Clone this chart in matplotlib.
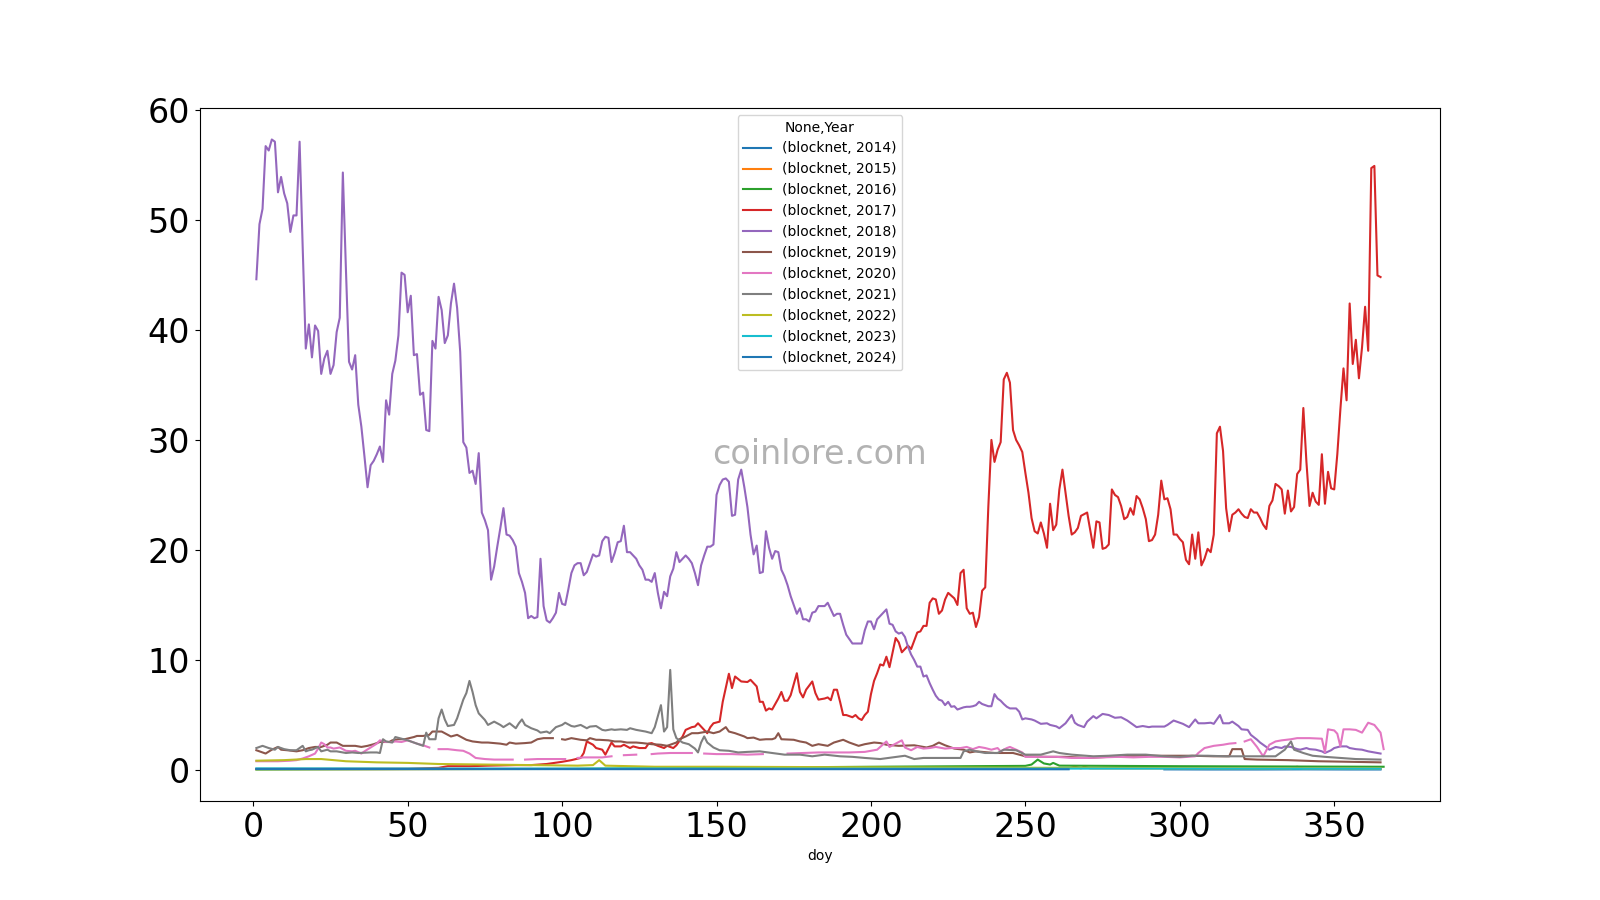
import numpy as np
import matplotlib
matplotlib.use("Agg")
import matplotlib.pyplot as plt

nan = np.nan

years = [2014, 2015, 2016, 2017, 2018, 2019, 2020, 2021, 2022, 2023, 2024]

# --- blocknet price by day of year ---
doy_2014 = [295, 310, 325, 340, 355, 365]
price_2014 = [0.06, 0.05, 0.05, 0.06, 0.05, 0.05]

doy_2015 = [1, 40, 80, 120, 160, 200, 240, 264, 266, 268, 269, 271, 300, 336, 338, 340, 365]
price_2015 = [0.08, 0.08, 0.1, 0.1, 0.12, 0.15, 0.15, 0.15, 0.3, 0.15, 0.3, 0.15, 0.15, 0.15, 0.3, 0.15, 0.12]

doy_2016 = [1, 50, 100, 150, 200, 250, 252, 254, 256, 258, 259, 261, 300, 366]
price_2016 = [0.05, 0.08, 0.1, 0.2, 0.3, 0.38, 0.5, 0.95, 0.6, 0.5, 0.65, 0.4, 0.35, 0.3]

doy_2017 = [1, 50, 60, 63, 70, 76, 85, 90, 95, 100, 103,
            106, 107, 108, 110, 111, 113, 114, 116, 117, 119, 120, 122, 123, 125, 127, 128, 129,
            131, 133, 134, 136, 137, 139, 140, 142, 143, 144, 145, 147, 148, 149, 151, 152, 154,
            155, 156, 158, 160, 161, 163, 164, 165, 166, 167, 168, 170, 171, 172, 173, 174, 176,
            177, 178, 179, 181, 182, 183, 185, 186, 187, 188, 189, 190, 191, 192, 194, 195, 196,
            197, 198, 199, 200, 201, 202, 203, 204, 205, 206, 208, 209, 210, 211, 212, 213, 215,
            216, 217, 218, 219, 220, 221, 222, 223, 224, 225, 227, 228, 229, 230, 231, 232, 233,
            234, 235, 236, 237, 238, 239, 240, 241, 242, 243, 244, 245, 246, 247, 248, 249, 250,
            251, 252, 253, 254, 255, 256, 257, 258, 259, 260, 261, 262, 263, 264, 265, 266, 267,
            268, 270, 271, 272, 273, 274, 275, 276, 277, 278, 279, 280, 281, 282, 283, 284, 285,
            286, 287, 288, 289, 290, 291, 292, 293, 294, 295, 296, 297, 298, 299, 300, 301, 302,
            303, 304, 305, 306, 307, 308, 309, 310, 311, 312, 313, 314, 315, 316, 317, 318, 319,
            320, 321, 322, 323, 324, 325, 326, 327, 328, 329, 330, 331, 332, 333, 334, 335, 336,
            337, 338, 339, 340, 341, 342, 343, 344, 345, 346, 347, 348, 349, 350, 351, 352, 353,
            354, 355, 356, 357, 358, 359, 360, 361, 362, 363, 364, 365]
price_2017 = [0.1, 0.12, 0.2, 0.35, 0.35, 0.4, 0.45, 0.45, 0.55, 0.75, 0.9,
              1.1, 1.55, 2.6, 2.3, 2.0, 1.85, 1.4, 2.5, 2.15, 2.15, 2.3, 2.0, 2.15, 2.0, 2.0, 2.4, 2.45,
              2.2, 2.0, 2.2, 2.0, 2.25, 3.05, 3.65, 3.9, 3.95, 4.25, 3.95, 3.35, 3.9, 4.25, 4.4, 6.2, 8.75,
              7.45, 8.5, 8.05, 8.0, 8.2, 7.6, 6.2, 6.2, 5.4, 5.6, 5.5, 6.5, 7.1, 6.3, 6.3, 6.8, 8.8,
              7.1, 6.6, 7.3, 8.05, 7.0, 6.4, 6.5, 6.6, 6.35, 7.3, 7.3, 6.2, 5.0, 5.0, 4.8, 5.0, 4.7,
              4.55, 5.0, 5.3, 6.9, 8.1, 8.8, 9.6, 9.5, 10.3, 9.35, 12.0, 11.6, 10.7, 11.0, 11.3, 11.0, 12.5,
              12.6, 13.1, 13.1, 15.2, 15.6, 15.5, 14.2, 14.5, 15.5, 16.1, 15.6, 15.0, 17.9, 18.2, 14.7, 14.2, 14.3,
              13.0, 13.9, 16.3, 16.6, 23.9, 30.0, 28.0, 29.1, 29.8, 35.5, 36.1, 35.2, 30.9, 30.0, 29.5, 28.9, 27.0,
              25.2, 22.9, 21.7, 21.5, 22.5, 21.5, 20.2, 24.2, 21.8, 22.3, 25.5, 27.3, 25.2, 23.1, 21.4, 21.6, 22.0,
              23.1, 23.4, 21.8, 20.2, 22.6, 22.5, 20.1, 20.2, 20.5, 25.5, 25.0, 24.8, 24.0, 22.8, 23.0, 23.8, 23.2,
              24.9, 24.6, 23.8, 22.8, 20.8, 20.9, 21.4, 23.2, 26.3, 24.6, 24.7, 23.7, 21.4, 21.4, 21.0, 20.7, 19.1,
              18.7, 21.4, 19.2, 21.6, 18.6, 19.2, 20.1, 19.8, 21.4, 30.6, 31.2, 29.0, 23.8, 21.7, 23.2, 23.4, 23.7,
              23.3, 23.0, 22.9, 23.7, 23.4, 23.4, 22.9, 22.3, 21.9, 24.0, 24.5, 26.0, 25.8, 25.5, 23.3, 25.4, 23.5,
              23.9, 26.9, 27.3, 32.9, 28.0, 24.0, 25.2, 24.4, 24.1, 28.7, 24.2, 27.1, 25.6, 25.5, 28.7, 32.8, 36.5,
              33.6, 42.4, 36.9, 39.1, 35.6, 38.4, 42.1, 38.1, 54.7, 54.9, 44.95, 44.8]

doy_2018 = list(range(1, 250)) + [
    250, 252, 253, 255, 257, 258, 260, 261, 263, 265, 266, 267, 269, 270, 272, 273, 275, 277,
    279, 281, 283, 285, 286, 288, 290, 291, 293, 295, 296, 298, 300, 301, 303, 305, 306, 308,
    310, 311, 313, 314, 316, 317, 319, 320, 322, 323, 325, 326, 328, 329, 331, 333, 334, 336,
    338, 339, 341, 342, 344, 346, 347, 349, 350, 352, 354, 355, 357, 359, 361, 363, 365]
price_2018 = [
    44.6, 49.6, 51.0, 56.7, 56.3, 57.3, 57.1, 52.5, 53.9, 52.4,
    51.5, 48.9, 50.4, 50.4, 57.1, 47.5, 38.3, 40.5, 37.5, 40.4,
    39.9, 36.0, 37.4, 38.1, 36.0, 36.8, 39.8, 41.1, 54.3, 45.5,
    37.1, 36.4, 37.7, 33.2, 31.2, 28.5, 25.7, 27.7, 28.1, 28.7,
    29.4, 28.0, 33.6, 32.3, 36.0, 37.2, 39.5, 45.2, 45.0, 41.6,
    43.1, 37.7, 37.8, 34.1, 34.3, 30.9, 30.8, 39.0, 38.3, 43.0,
    41.8, 38.8, 39.5, 42.4, 44.2, 42.0, 38.0, 29.8, 29.3, 27.0,
    27.2, 26.0, 28.8, 23.4, 22.7, 21.8, 17.3, 18.5, 20.3, 22.0,
    23.8, 21.4, 21.3, 20.9, 20.3, 17.9, 17.1, 16.1, 13.8, 14.0,
    13.8, 13.9, 19.2, 14.9, 13.6, 13.4, 13.8, 14.3, 16.1, 15.1,
    15.0, 16.4, 17.9, 18.6, 18.8, 18.8, 17.7, 18.0, 18.8, 19.6,
    19.4, 19.5, 20.8, 21.2, 21.1, 18.9, 19.7, 20.7, 20.8, 22.2,
    19.8, 19.8, 19.5, 19.2, 18.6, 18.2, 17.3, 17.3, 17.1, 17.9,
    16.1, 14.7, 16.2, 15.8, 17.6, 18.3, 19.8, 18.9, 19.2, 19.5,
    19.2, 18.8, 17.9, 16.8, 18.6, 19.5, 20.3, 20.3, 20.5, 25.0,
    25.9, 26.4, 26.5, 26.2, 23.1, 23.2, 26.4, 27.3, 25.7, 23.9,
    21.4, 19.6, 20.4, 17.9, 18.0, 21.7, 20.2, 19.2, 19.9, 19.8,
    18.2, 17.6, 16.8, 15.8, 15.0, 14.2, 14.7, 13.7, 13.7, 13.5,
    14.3, 14.4, 14.9, 14.9, 14.9, 15.2, 14.6, 14.0, 14.2, 14.2,
    13.2, 12.3, 11.9, 11.5, 11.5, 11.5, 11.5, 12.7, 13.5, 13.5,
    12.8, 13.7, 14.0, 14.3, 14.6, 13.3, 13.2, 12.6, 12.4, 12.5,
    12.1, 11.2, 10.5, 10.0, 9.4, 9.4, 8.5, 8.6, 7.9, 7.3,
    6.75, 6.4, 6.3, 5.9, 6.2, 5.75, 5.8, 5.5, 5.6, 5.7,
    5.75, 5.75, 5.8, 5.9, 6.2, 6.0, 5.9, 5.8, 5.8, 6.9,
    6.5, 6.3, 6.0, 5.75, 5.6, 5.6, 5.6, 5.3, 4.6,
    4.7, 4.6, 4.5, 4.2, 4.25, 4.1, 3.97, 3.8, 4.25, 5.0, 4.3, 4.1, 3.9, 4.4, 4.9, 4.7, 5.1, 5.0,
    4.75, 4.8, 4.5, 4.1, 3.9, 4.0, 3.9, 3.95, 3.95, 3.95, 4.1, 4.5, 4.3, 4.2, 3.9, 4.6, 4.25, 4.25,
    4.3, 4.2, 5.0, 4.25, 4.25, 4.4, 4.0, 3.7, 3.65, 3.2, 2.76, 2.5, 2.1, 1.85, 2.1, 2.0, 2.15, 2.1,
    1.9, 1.85, 2.0, 1.9, 1.85, 1.7, 1.55, 1.8, 2.0, 2.15, 2.15, 2.0, 1.9, 1.85, 1.7, 1.6, 1.5]

doy_2019 = [1, 3, 4, 6, 8, 9, 11, 14, 16, 18, 20, 22, 24, 25, 27, 29, 31, 33, 35, 37, 39, 41, 44,
            45, 47, 49, 52, 53, 55, 57, 58, 60, 61, 63, 64, 66, 68, 69, 71, 74, 76, 78, 80, 82, 83,
            85, 88, 90, 92, 94, 96, 97, 98, 100, 101, 103, 106, 108, 109, 111, 112, 115, 117, 119,
            121, 124, 126, 129, 132, 134, 137, 138, 140, 142, 144, 147, 149, 151, 153, 154, 156,
            159, 160, 162, 164, 166, 168, 169, 170, 171, 175, 177, 179, 181, 183, 186, 188, 191,
            193, 196, 198, 201, 203, 205, 209, 214, 218, 220, 222, 224, 227, 230, 232, 234, 240,
            246, 250, 257, 263, 270, 277, 284, 290, 297, 304, 311, 316, 317, 320, 321, 325, 335,
            345, 365]
price_2019 = [1.8, 1.6, 1.5, 1.85, 2.1, 1.85, 1.8, 1.7, 1.8, 2.0, 2.1, 2.1, 2.3, 2.5, 2.5, 2.2, 2.2,
              2.2, 2.1, 2.2, 2.35, 2.55, 2.55, 2.7, 2.8, 2.8, 3.0, 3.1, 3.1, 3.2, 3.5, 3.5, 3.5, 3.2,
              3.05, 3.2, 2.9, 2.75, 2.6, 2.5, 2.5, 2.45, 2.4, 2.3, 2.5, 2.4, 2.45, 2.5, 2.8, 2.9, 2.9,
              2.9, nan, 2.8, 2.75, 2.9, 2.75, 2.7, 2.9, 2.75, 2.75, 2.7, 2.6, 2.6, 2.5, 2.5, 2.45,
              2.35, 2.3, 2.2, 2.5, 2.8, 3.05, 3.35, 3.35, 3.5, 3.35, 3.5, 3.9, 3.5, 3.35, 3.05, 2.9,
              2.95, 2.75, 2.8, 2.8, 2.9, 3.35, 2.8, 2.75, 2.6, 2.5, 2.2, 2.35, 2.2, 2.5, 2.75, 2.5,
              2.2, 2.35, 2.5, 2.45, 2.3, 2.2, 2.25, 2.05, 2.2, 2.5, 2.25, 1.95, 1.85, 1.6, 1.7, 1.55,
              1.55, 1.25, 1.2, 1.2, 1.1, 1.2, 1.3, 1.3, 1.3, 1.3, 1.25, 1.25, 1.9, 1.9, 1.0, 0.95,
              0.9, 0.8, 0.7]

doy_2020 = [1, 5, 8, 12, 14, 16, 18, 20, 21, 22, 23, 24, 25, 26, 28, 30, 32, 33, 35, 36, 38, 40,
            41, 43, 45, 46, 48, 50, 51, 53, 55, 57, 58, 60, 63, 66, 68, 70, 72, 75, 78, 81, 84, 86,
            88, 92, 95, 98, 101, 103, 105, 107, 110, 113, 116, 118, 120, 124, 127, 129, 131, 135,
            139, 142, 144, 146, 150, 155, 160, 165, 170, 173, 178, 183, 188, 193, 198, 202, 205,
            206, 208, 210, 211, 213, 215, 217, 219, 221, 224, 226, 229, 231, 233, 235, 237, 239,
            241, 242, 244, 245, 247, 249, 250, 255, 260, 265, 270, 275, 280, 285, 290, 295, 300,
            305, 306, 308, 311, 314, 316, 318, 319, 321, 323, 325, 327, 329, 331, 333, 336, 338,
            342, 346, 347, 348, 350, 351, 352, 353, 355, 357, 359, 361, 363, 365, 366]
price_2020 = [0.8, 0.8, 0.8, 0.85, 0.9, 1.05, 1.25, 1.5, 1.95, 2.5, 2.35, 2.05, 2.05, 1.95, 2.05,
              1.75, 1.7, 1.75, 1.5, 1.7, 2.05, 2.4, 2.7, 2.55, 2.55, 2.6, 2.55, 2.7, 2.6, 2.4, 2.25,
              2.05, nan, 1.9, 1.9, 1.8, 1.75, 1.5, 1.1, 1.0, 0.95, 0.95, 0.95, nan, 0.95, 1.0, 1.0,
              1.0, 1.0, nan, 1.1, 1.15, 1.15, 1.15, 1.25, nan, 1.35, 1.4, nan, 1.45, 1.5, 1.55,
              1.55, 1.55, nan, 1.5, 1.45, 1.45, 1.4, 1.45, nan, 1.5, 1.55, 1.6, 1.6, 1.6, 1.65, 1.85,
              2.6, 2.1, 2.4, 2.7, 2.05, 1.8, 2.1, 1.95, 2.0, 2.1, 1.95, 2.0, 2.0, 2.1, 1.9, 2.1, 2.0,
              1.85, 2.0, 1.7, 2.0, 2.1, 1.85, 1.6, 1.2, 1.2, 1.2, 1.1, 1.1, 1.15, 1.2, 1.15, 1.2,
              1.2, 1.15, 1.25, 1.55, 2.0, 2.2, 2.3, 2.4, 2.45, nan, 2.6, 2.8, 2.1, 1.25, 2.3, 2.6,
              2.7, 2.8, 2.9, 2.9, 2.85, 1.6, 3.7, 3.6, 3.3, 2.15, 3.7, 3.7, 3.65, 3.4, 4.3, 4.1,
              3.4, 1.9]

doy_2021 = [1, 3, 5, 7, 8, 10, 12, 14, 16, 17, 18, 19, 21, 22, 24, 25, 27, 30, 32, 34, 38, 40,
            41, 42, 43, 45, 46, 48, 50, 51, 53, 55, 56, 57, 59, 60, 61, 62, 63, 65, 66, 68, 69,
            70, 71, 72, 73, 75, 76, 78, 80, 81, 83, 85, 86, 87, 88, 90, 92, 93, 95, 96, 98, 100,
            101, 103, 104, 106, 108, 109, 111, 113, 114, 116, 117, 119, 121, 122, 124, 125, 127,
            129, 130, 132, 133, 134, 135, 136, 137, 139, 141, 143, 144, 145, 146, 147, 149, 151,
            154, 157, 160, 164, 168, 172, 177, 181, 185, 190, 194, 198, 203, 207, 211, 214, 217,
            220, 225, 229, 230, 232, 234, 237, 241, 243, 247, 250, 255, 259, 261, 265, 272, 277,
            283, 289, 295, 300, 304, 309, 315, 320, 324, 328, 331, 334, 336, 337, 340, 343, 347,
            352, 357, 365]
price_2021 = [2.0, 2.2, 2.0, 1.85, 2.1, 1.9, 1.8, 1.8, 2.2, 1.7, 1.8, 1.85, 2.1, 1.7, 1.85, 1.7,
              1.7, 1.55, 1.6, 1.55, 1.6, 1.6, 1.55, 2.8, 2.6, 2.5, 3.0, 2.85, 2.7, 2.6, 2.4, 2.2,
              3.4, 2.8, 2.8, 4.7, 5.5, 4.6, 4.0, 4.1, 4.7, 6.4, 7.0, 8.1, 7.1, 5.9, 5.15, 4.55, 4.1,
              4.4, 4.1, 3.9, 4.25, 3.8, 4.25, 4.6, 4.1, 3.8, 3.6, 3.4, 3.5, 3.35, 3.9, 4.1, 4.3, 4.0,
              3.95, 4.1, 3.8, 3.95, 4.0, 3.65, 3.6, 3.7, 3.65, 3.7, 3.65, 3.8, 3.65, 3.6, 3.5, 3.35,
              3.9, 5.9, 3.5, 3.9, 9.1, 3.7, 2.9, 2.5, 2.35, 1.95, 1.6, 2.5, 3.06, 2.5, 2.05, 1.8,
              1.75, 1.6, 1.65, 1.7, 1.55, 1.4, 1.4, 1.25, 1.4, 1.25, 1.2, 1.1, 1.0, 1.15, 1.3, 1.0,
              1.1, 1.1, 1.1, 1.1, 1.7, 1.85, 1.7, 1.55, 1.55, 1.85, 1.8, 1.4, 1.4, 1.7, 1.55, 1.4,
              1.25, 1.3, 1.4, 1.4, 1.25, 1.2, 1.3, 1.3, 1.25, 1.25, 1.25, 1.25, 1.25, 1.85, 2.6,
              1.85, 1.55, 1.3, 1.2, 1.1, 1.0, 0.95]

doy_2022 = [1, 10, 17, 22, 30, 40, 50, 60, 75, 90, 105, 110, 112, 114, 130, 150, 200, 260, 365]
price_2022 = [0.85, 0.9, 1.0, 1.0, 0.8, 0.7, 0.65, 0.55, 0.5, 0.45, 0.4, 0.45, 0.9, 0.4, 0.3, 0.3,
              0.25, 0.2, 0.15]

doy_2023 = [1, 60, 120, 180, 240, 300, 365]
price_2023 = [0.15, 0.14, 0.14, 0.13, 0.13, 0.13, 0.12]

doy_2024 = [1, 60, 120, 180, 240, 264]
price_2024 = [0.1, 0.09, 0.08, 0.08, 0.07, 0.07]

series = {
    2014: (doy_2014, price_2014),
    2015: (doy_2015, price_2015),
    2016: (doy_2016, price_2016),
    2017: (doy_2017, price_2017),
    2018: (doy_2018, price_2018),
    2019: (doy_2019, price_2019),
    2020: (doy_2020, price_2020),
    2021: (doy_2021, price_2021),
    2022: (doy_2022, price_2022),
    2023: (doy_2023, price_2023),
    2024: (doy_2024, price_2024),
}

fig, ax = plt.subplots(figsize=(16, 9), dpi=100)

for yr in years:
    d, p = series[yr]
    ax.plot(d, p, label=f"(blocknet, {yr})")

ax.legend(title="None,Year", loc="upper center")
ax.set_xlabel("doy")
ax.tick_params(axis="both", labelsize=24)

# watermark
ax.text(0.5, 0.5, "coinlore.com", transform=ax.transAxes, ha="center", va="center",
        fontsize=24, color="gray", alpha=0.6)

fig.savefig("out.png", dpi=100)
